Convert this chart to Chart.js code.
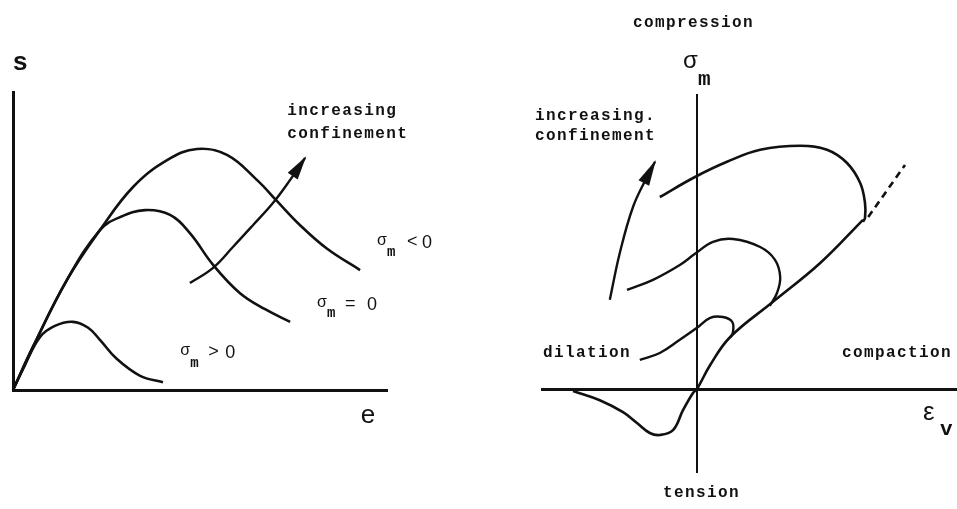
<!DOCTYPE html>
<html>
<head>
<meta charset="utf-8">
<script src="https://cdn.jsdelivr.net/npm/chart.js@4.4.1/dist/chart.umd.min.js"></script>
<style>
  html, body { margin: 0; padding: 0; background: #fff; }
  #wrap { position: relative; width: 957px; height: 509px; background: #fff; overflow: hidden; }
  #wrap canvas { position: absolute; top: 0; display: block; }
</style>
</head>
<body>
<div id="wrap">
  <canvas id="deviatoric" width="480" height="509" style="left:0"></canvas>
  <canvas id="volumetric" width="477" height="509" style="left:480px"></canvas>
</div>
<script>
// ---- Deviatoric stress s vs. strain e, one curve per confinement level ----
const eNeg  = [0, 0.53, 1.44, 2.33, 3.21, 4.12, 4.92, 5.72, 6.52, 7.06, 7.67, 8.40, 9.28];
const sNeg  = [0, 1.15, 2.95, 4.30, 5.45, 6.17, 6.47, 6.31, 5.64, 5.07, 4.43, 3.79, 3.22];
const eZero = [0, 0.53, 1.44, 2.33, 2.86, 3.53, 4.20, 4.73, 5.35, 6.07, 6.74, 7.41];
const sZero = [0, 1.15, 2.95, 4.30, 4.64, 4.83, 4.70, 4.21, 3.36, 2.60, 2.17, 1.83];
const ePos  = [0, 0.32, 0.72, 1.12, 1.60, 2.01, 2.33, 2.78, 3.40, 4.01];
const sPos  = [0, 0.67, 1.42, 1.72, 1.83, 1.67, 1.34, 0.83, 0.38, 0.21];
// trend arrow across the peaks
const eTrend = [4.73, 5.35, 5.88, 6.42, 6.95, 7.41, 7.81];
const sTrend = [2.87, 3.28, 3.84, 4.43, 5.02, 5.64, 6.23];

// ---- Mean stress σm vs. volumetric strain εv ----
const evBase = [-3.1, -2.43, -1.85, -1.5, -1.18, -0.93, -0.6, -0.35, -0.1, 0, 0.33, 0.83, 1.9, 3.08, 4.15];
const smBase = [-0.05, -0.28, -0.58, -0.85, -1.1, -1.15, -1.03, -0.53, -0.1, 0, 0.6, 1.3, 2.18, 3.15, 4.23];
const evExtend = [4.28, 5.2];
const smExtend = [4.3, 5.6];
const evHigh = [-0.93, -0.05, 0.75, 1.58, 2.58, 3.25, 3.75, 4.08, 4.2, 4.2, 4.15];
const smHigh = [4.8, 5.3, 5.68, 5.98, 6.08, 5.98, 5.65, 5.15, 4.65, 4.28, 4.18];
const evMid  = [-1.75, -1.1, -0.43, -0.05, 0.4, 0.9, 1.58, 1.95, 2.08, 2.0, 1.82];
const smMid  = [2.48, 2.73, 3.1, 3.38, 3.68, 3.75, 3.55, 3.23, 2.8, 2.4, 2.08];
const evLow  = [-1.43, -0.93, -0.43, 0, 0.33, 0.65, 0.88, 0.9, 0.83];
const smLow  = [0.73, 0.9, 1.23, 1.53, 1.78, 1.8, 1.68, 1.43, 1.28];
const evTrend = [-2.18, -1.93, -1.6, -1.25, -1.05];
const smTrend = [2.23, 3.4, 4.55, 5.3, 5.68];

const INK = '#111';
const MONO = '"Liberation Mono", "DejaVu Sans Mono", monospace';
const SANS = '"Liberation Sans", "DejaVu Sans", sans-serif';

function pairs(xs, ys) { return xs.map((v, i) => ({ x: v, y: ys[i] })); }
function curve(xs, ys, extra) {
  return Object.assign({
    data: pairs(xs, ys), showLine: true, borderColor: INK, borderWidth: 2.6,
    pointRadius: 0, tension: 0.4, clip: false, fill: false, capBezierPoints: false
  }, extra || {});
}

// filled arrowhead at the last point of a dataset, following the curve's final tangent
const arrowHeads = {
  id: 'arrowHeads',
  afterDatasetsDraw(chart) {
    const ctx = chart.ctx;
    chart.data.datasets.forEach((ds, i) => {
      if (!ds.arrowHead) return;
      const pts = chart.getDatasetMeta(i).data;
      const tip = pts[pts.length - 1];
      const prev = pts[pts.length - 2];
      let fx = prev.x, fy = prev.y;
      if (tip.cp1x !== undefined && (tip.cp1x !== tip.x || tip.cp1y !== tip.y)) { fx = tip.cp1x; fy = tip.cp1y; }
      const ang = Math.atan2(tip.y - fy, tip.x - fx);
      const len = ds.arrowHead.length, half = ds.arrowHead.width / 2;
      ctx.save();
      ctx.translate(tip.x, tip.y);
      ctx.rotate(ang);
      ctx.beginPath();
      ctx.moveTo(2, 0);
      ctx.lineTo(-len, -half);
      ctx.lineTo(-len, half);
      ctx.closePath();
      ctx.fillStyle = INK;
      ctx.fill();
      ctx.restore();
    });
  }
};

// text placed in data coordinates, each item made of one or more parts
const textMarks = {
  id: 'textMarks',
  afterDraw(chart, args, opts) {
    const ctx = chart.ctx;
    const xs = chart.scales.x, ys = chart.scales.y;
    (opts.items || []).forEach(item => {
      const px = xs.getPixelForValue(item.x);
      const py = ys.getPixelForValue(item.y);
      item.parts.forEach(p => {
        ctx.save();
        ctx.font = p.font;
        ctx.fillStyle = INK;
        ctx.textAlign = p.align || 'left';
        ctx.textBaseline = 'alphabetic';
        if ('letterSpacing' in ctx) ctx.letterSpacing = p.spacing || '0px';
        ctx.fillText(p.text, px + (p.dx || 0), py + (p.dy || 0));
        ctx.restore();
      });
    });
  }
};

const label = (text, extra) => Object.assign({ text, font: 'bold 16px ' + MONO, spacing: '1.4px' }, extra || {});
function sigmaLabel(x, y, rel, relDx, zeroDx, subDy) {
  return { x, y, parts: [
    { text: 'σ', font: '16px ' + SANS },
    { text: 'm', font: 'bold 14px ' + MONO, dx: 10, dy: subDy },
    { text: rel, font: '18px ' + SANS, dx: relDx, dy: 2 },
    { text: '0', font: '18px ' + SANS, dx: zeroDx, dy: 3 }
  ] };
}

function axisScale(min, max, at, width) {
  return {
    type: 'linear', min, max, position: at,
    grid: { display: false }, ticks: { display: false },
    border: { display: true, color: INK, width }
  };
}

Chart.defaults.font.family = SANS;

new Chart(document.getElementById('deviatoric'), {
  type: 'scatter',
  data: {
    datasets: [
      curve(eNeg, sNeg, { label: 'σm < 0' }),
      curve(eZero, sZero, { label: 'σm = 0' }),
      curve(ePos, sPos, { label: 'σm > 0' }),
      curve(eTrend, sTrend, { label: 'increasing confinement', borderWidth: 2.4, arrowHead: { length: 22, width: 12 } })
    ]
  },
  options: {
    responsive: false, animation: false, devicePixelRatio: 1,
    layout: { padding: { left: 13, right: 93, top: 92, bottom: 119 } },
    scales: { x: axisScale(0, 10, { y: 0 }, 3), y: axisScale(0, 8, { x: 0 }, 3) },
    plugins: {
      legend: { display: false }, tooltip: { enabled: false },
      textMarks: { items: [
        { x: 0.19, y: 8.59, parts: [{ text: 's', font: 'bold 26px ' + SANS, align: 'center' }] },
        { x: 9.49, y: -0.89, parts: [{ text: 'e', font: '26px ' + SANS, align: 'center' }] },
        { x: 7.33, y: 7.38, parts: [label('increasing')] },
        { x: 7.33, y: 6.77, parts: [label('confinement')] },
        sigmaLabel(9.73, 3.89, '<', 30, 45, 11),
        sigmaLabel(8.13, 2.23, '=', 28, 50, 10),
        sigmaLabel(4.47, 0.94, '>', 28, 45, 12)
      ] }
    }
  },
  plugins: [arrowHeads, textMarks]
});

new Chart(document.getElementById('volumetric'), {
  type: 'scatter',
  data: {
    datasets: [
      curve(evBase, smBase, { label: 'loading path' }),
      curve(evExtend, smExtend, { label: 'continued compaction', borderDash: [7, 5], tension: 0 }),
      curve(evHigh, smHigh, { label: 'high confinement' }),
      curve(evMid, smMid, { label: 'medium confinement', borderWidth: 2.4 }),
      curve(evLow, smLow, { label: 'low confinement', borderWidth: 2.4 }),
      curve(evTrend, smTrend, { label: 'increasing confinement', borderWidth: 2.4, arrowHead: { length: 24, width: 12 } })
    ]
  },
  options: {
    responsive: false, animation: false, devicePixelRatio: 1,
    layout: { padding: { left: 62, right: 0, top: 95, bottom: 37 } },
    scales: { x: axisScale(-3.875, 6.5, { y: 0 }, 3), y: axisScale(-2.075, 7.35, { x: 0 }, 2) },
    plugins: {
      legend: { display: false }, tooltip: { enabled: false },
      textMarks: { items: [
        { x: -1.6, y: 9.05, parts: [label('compression')] },
        { x: -0.35, y: 8.03, parts: [
          { text: 'σ', font: '24px ' + SANS },
          { text: 'm', font: 'bold 21px ' + MONO, dx: 15, dy: 17 }
        ] },
        { x: -4.05, y: 6.73, parts: [label('increasing.')] },
        { x: -4.05, y: 6.23, parts: [label('confinement')] },
        { x: -3.85, y: 0.8, parts: [label('dilation')] },
        { x: 3.625, y: 0.8, parts: [label('compaction')] },
        { x: 5.65, y: -0.78, parts: [
          { text: 'ε', font: '26px ' + SANS },
          { text: 'v', font: 'bold 21px ' + MONO, dx: 17, dy: 15 }
        ] },
        { x: -0.85, y: -2.7, parts: [label('tension')] }
      ] }
    }
  },
  plugins: [arrowHeads, textMarks]
});
</script>
</body>
</html>
